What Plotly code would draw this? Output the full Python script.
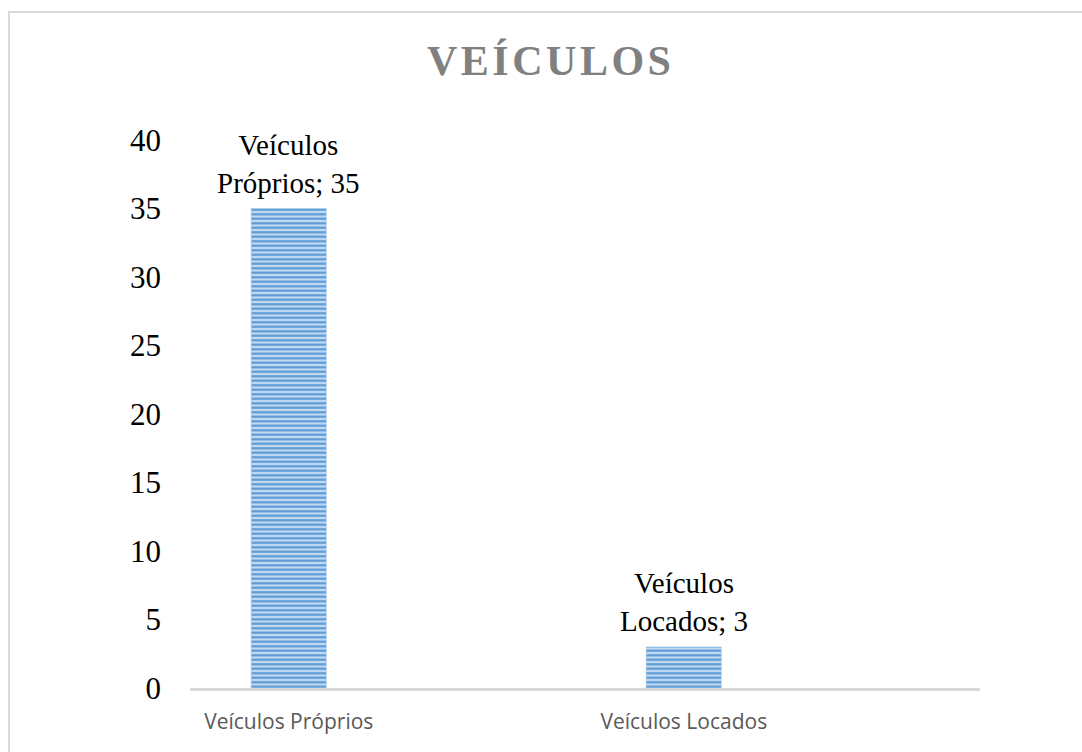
import plotly.graph_objects as go

# Frota de veículos
categorias = ["Veículos Próprios", "Veículos Locados"]
quantidades = [35, 3]
rotulos = ["Veículos<br>Próprios", "Veículos<br>Locados"]
y_ticks = [0, 5, 10, 15, 20, 25, 30, 35, 40]

W, H = 1082, 752
ML, MR, MT, MB = 190, 102, 140, 64
pw, ph = W - ML - MR, H - MT - MB

fig = go.Figure()
fig.add_trace(go.Bar(
    x=categorias,
    y=quantidades,
    width=0.19,
    marker=dict(
        color="#5b9bd5",
        line=dict(width=0.6, color="#9cc3e8"),
        pattern=dict(shape="-", fgcolor="#5b9bd5", bgcolor="#c3daf1",
                     size=4.5, solidity=0.5, fillmode="replace"),
    ),
    hoverinfo="skip",
))

for cat, val, lab in zip(categorias, quantidades, rotulos):
    fig.add_annotation(
        x=cat, y=val, text=f"{lab}; {val}", showarrow=False,
        yanchor="bottom", yshift=8, align="center",
        font=dict(family="Liberation Serif", size=29, color="#000000"),
    )

# Título com leve espaçamento entre letras
titulo = "\u200a".join("VEÍCULOS")
fig.add_annotation(
    xref="paper", yref="paper", x=(549 - ML) / pw, y=1 + (MT - 61) / ph,
    text=f"<b>{titulo}</b>", showarrow=False, xanchor="center", yanchor="middle",
    font=dict(family="Liberation Serif", size=42, color="#808080"),
)

# Moldura do gráfico
fig.add_shape(
    type="rect", xref="paper", yref="paper",
    x0=(9 - ML) / pw, x1=1.3, y0=-0.3, y1=1 + (MT - 12) / ph,
    line=dict(color="#d9d9d9", width=2), fillcolor="rgba(0,0,0,0)", layer="below",
)

fig.update_layout(
    width=W, height=H,
    margin=dict(l=ML, r=MR, t=MT, b=MB),
    paper_bgcolor="white", plot_bgcolor="white",
    showlegend=False,
    bargap=0.5,
)
fig.update_xaxes(
    range=[-0.25, 1.75],
    showgrid=False, zeroline=False,
    showline=True, linecolor="#d9d9d9", linewidth=3,
    ticks="", ticklabelstandoff=13,
    tickfont=dict(family="Open Sans", size=21, color="#595959"),
)
fig.update_yaxes(
    range=[0, 40], tickvals=y_ticks,
    showgrid=False, zeroline=False, showline=False,
    ticks="", ticklabelstandoff=28,
    tickfont=dict(family="Liberation Serif", size=31, color="#000000"),
)

fig.write_html("out.html")
